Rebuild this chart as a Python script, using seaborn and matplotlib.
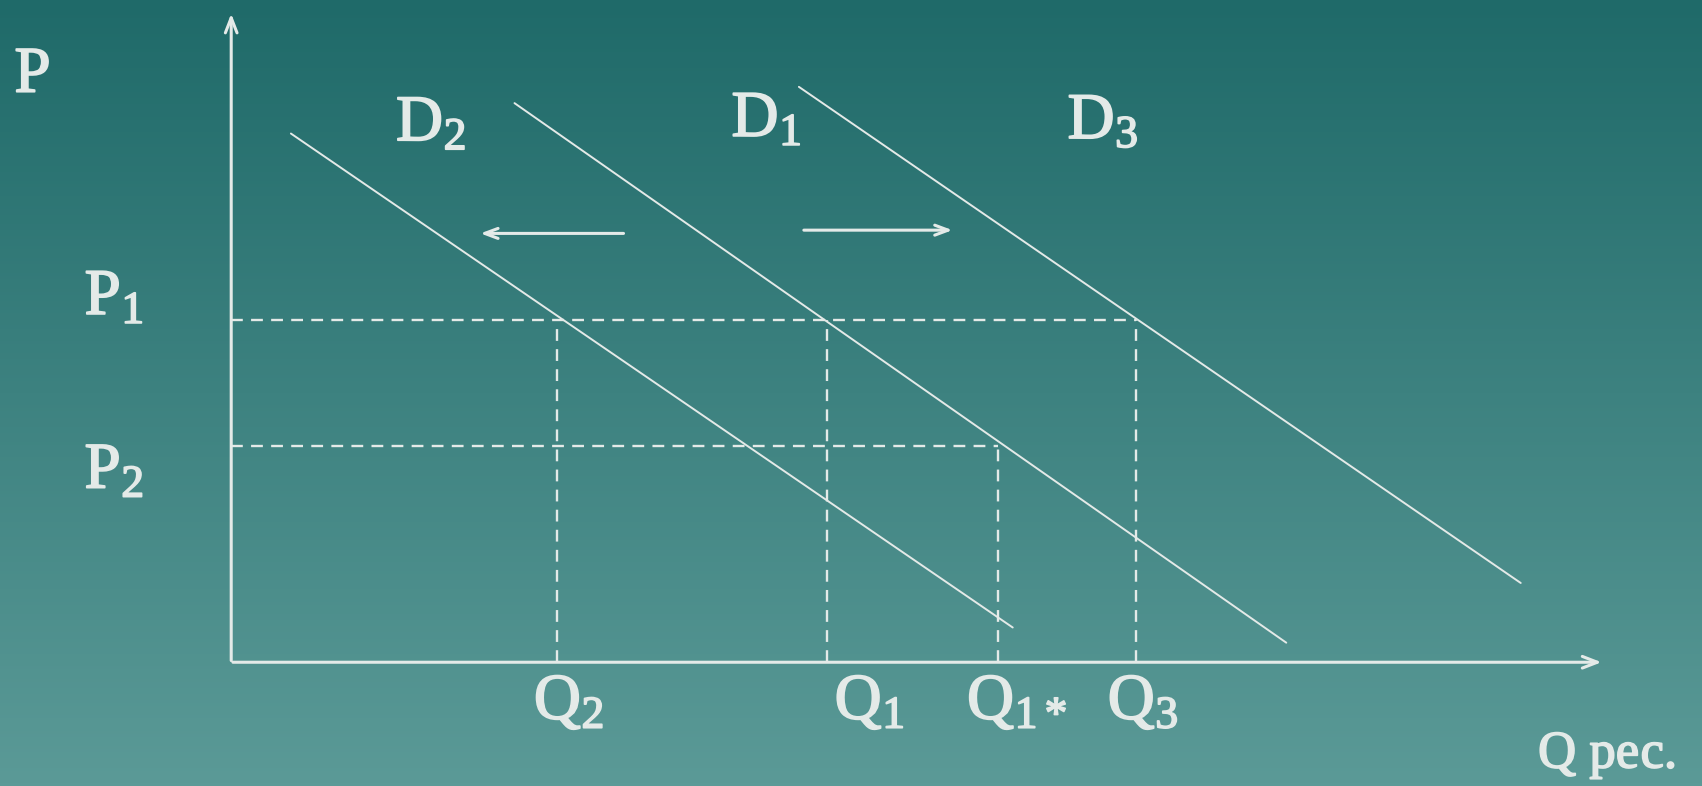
import numpy as np
import pandas as pd
import matplotlib
matplotlib.use("Agg")
import matplotlib.pyplot as plt
import matplotlib.patheffects as pe
from matplotlib.colors import LinearSegmentedColormap
import seaborn as sns

sns.set_theme(style="white")
plt.rcParams["font.family"] = ["Liberation Serif", "DejaVu Serif"]
plt.rcParams["mathtext.fontset"] = "custom"
plt.rcParams["mathtext.rm"] = "Liberation Serif"
plt.rcParams["mathtext.it"] = "Liberation Serif"

# Кривые спроса (начальная и конечная точки Q, P)
curves = ["D2", "D1", "D3"]
q_start = [0.55, 2.61, 5.23]
p_start = [4.87, 5.15, 5.30]
q_end = [7.20, 9.72, 11.88]
p_end = [0.32, 0.18, 0.73]

# Уровни цен и объёмы
price_names = ["P$_1$", "P$_2$"]
price_values = [3.15, 1.99]
qty_names = ["Q$_2$", "Q$_1$", "Q$_{1*}$", "Q$_3$"]
qty_values = [3.00, 5.49, 7.06, 8.34]
qty_price = [3.15, 3.15, 1.99, 3.15]   # до какой цены идёт пунктир
price_reach = [8.34, 7.06]              # до какого Q идёт пунктир по цене

FG = "#e4eae8"
XLIM = (-2.13, 13.55)
YLIM = (-1.14, 6.10)

fig = plt.figure(figsize=(17.02, 7.86), dpi=100)
ax = fig.add_axes([0, 0, 1, 1])

# фон с градиентом (тёмный сверху)
cmap = LinearSegmentedColormap.from_list("bg", ["#1f6a69", "#5b9a97"])
grad = np.linspace(0, 1, 256).reshape(-1, 1)
ax.imshow(grad, cmap=cmap, aspect="auto", extent=[*XLIM, *YLIM],
          origin="upper", zorder=0)

# оси
arrow = dict(arrowstyle="->,head_length=0.9,head_width=0.35", color=FG, lw=2.2)
ax.annotate("", xy=(0, 6.0), xytext=(0, -0.01), arrowprops=arrow, zorder=3)
ax.annotate("", xy=(12.65, 0), xytext=(-0.01, 0), arrowprops=arrow, zorder=3)

# кривые спроса
df = pd.DataFrame({
    "curve": curves * 2,
    "Q": q_start + q_end,
    "P": p_start + p_end,
})
sns.lineplot(data=df, x="Q", y="P", units="curve", estimator=None, sort=False,
             color=FG, lw=1.4, ax=ax, zorder=2)
ax.set_xlim(*XLIM)
ax.set_ylim(*YLIM)
ax.axis("off")

# пунктирные линии
for p, qmax in zip(price_values, price_reach):
    ax.plot([0, qmax], [p, p], color=FG, lw=1.7, dashes=(5, 3.5), zorder=2)
for q, p in zip(qty_values, qty_price):
    ax.plot([q, q], [0, p], color=FG, lw=1.7, dashes=(5, 3.5), zorder=2)

# стрелки сдвига
shift = dict(arrowstyle="->,head_length=0.8,head_width=0.3", color=FG, lw=2.2)
ax.annotate("", xy=(2.27, 3.95), xytext=(3.64, 3.95), arrowprops=shift)
ax.annotate("", xy=(6.67, 3.98), xytext=(5.25, 3.98), arrowprops=shift)

fs = 47
bold = [pe.withStroke(linewidth=1.2, foreground=FG)]
txt = dict(color=FG, fontsize=fs, ha="center", va="center", path_effects=bold)
ax.text(-1.83, 5.40, "P", **txt)
for name, yy in zip(price_names, [3.35, 1.75]):
    ax.text(-1.08, yy, name, **txt)
for name, xx, yy in zip(["D$_2$", "D$_1$", "D$_3$"], [1.84, 4.93, 8.03], [4.95, 4.99, 4.97]):
    ax.text(xx, yy, name, **txt)
for name, xx in zip(qty_names, [3.11, 5.88, 7.24, 8.40]):
    ax.text(xx, -0.38, name, **txt)
ax.text(12.68, -0.85, "Q рес.", color=FG, fontsize=38, ha="center", va="center",
        path_effects=bold)

fig.savefig("out.png", dpi=100)
